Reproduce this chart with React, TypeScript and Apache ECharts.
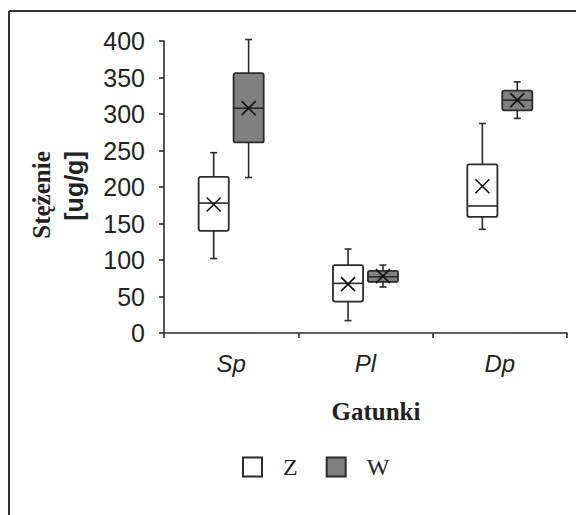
import React, { useEffect, useRef } from "react";
import * as echarts from "echarts";

// Species on the category axis
const categories = ["Sp", "Pl", "Dp"];

// Five-number summaries per species: [min, Q1, median, Q3, max]
const zStats = [
  [102, 140, 178, 214, 247],
  [17, 43, 68, 93, 115],
  [142, 159, 174, 231, 287],
];
const zMeans = [176, 67, 201];

const wStats = [
  [213, 261, 308, 356, 402],
  [63, 70, 77, 85, 93],
  [294, 305, 319, 332, 344],
];
const wMeans = [308, 78, 319];

// Value axis range and step
const yMin = 0;
const yMax = 400;
const yStep = 50;

const seriesNames = ["Z", "W"];

const INK = "#2b2b2b";

function makeRenderItem(side: number, fill: string) {
  return (params: any, api: any) => {
    const cat = api.value(0);
    const mn = api.value(1);
    const q1 = api.value(2);
    const med = api.value(3);
    const q3 = api.value(4);
    const mx = api.value(5);
    const mean = api.value(6);
    const band = api.size([1, 0])[0];
    const cx = api.coord([cat, 0])[0] + side * band * 0.13;
    const half = band * 0.112;
    const y = (v: number) => api.coord([cat, v])[1];
    const cap = 3.5;
    const xs = 7;
    const lineStyle = { stroke: INK, lineWidth: 1.6 };
    const ym = y(mean);
    return {
      type: "group",
      children: [
        { type: "line", shape: { x1: cx, y1: y(mn), x2: cx, y2: y(q1) }, style: lineStyle },
        { type: "line", shape: { x1: cx, y1: y(q3), x2: cx, y2: y(mx) }, style: lineStyle },
        { type: "line", shape: { x1: cx - cap, y1: y(mn), x2: cx + cap, y2: y(mn) }, style: lineStyle },
        { type: "line", shape: { x1: cx - cap, y1: y(mx), x2: cx + cap, y2: y(mx) }, style: lineStyle },
        {
          type: "rect",
          shape: { x: cx - half, y: y(q3), width: half * 2, height: y(q1) - y(q3), r: 2 },
          style: { fill, stroke: INK, lineWidth: 1.8 },
        },
        { type: "line", shape: { x1: cx - half, y1: y(med), x2: cx + half, y2: y(med) }, style: lineStyle },
        { type: "line", shape: { x1: cx - xs, y1: ym - xs, x2: cx + xs, y2: ym + xs }, style: { stroke: "#111", lineWidth: 1.6 } },
        { type: "line", shape: { x1: cx - xs, y1: ym + xs, x2: cx + xs, y2: ym - xs }, style: { stroke: "#111", lineWidth: 1.6 } },
      ],
    };
  };
}

export default function App() {
  const ref = useRef<HTMLDivElement>(null);

  useEffect(() => {
    if (!ref.current) return;
    const chart = echarts.init(ref.current, undefined, { renderer: "svg" });

    const zData = zStats.map((s, i) => [i, ...s, zMeans[i]]);
    const wData = wStats.map((s, i) => [i, ...s, wMeans[i]]);

    const fills = ["#ffffff", "#808080"];

    chart.setOption({
      animation: false,
      backgroundColor: "#ffffff",
      grid: { left: 164, right: 9, top: 41, bottom: 182, containLabel: false },
      legend: {
        left: 242,
        top: 455,
        padding: 0,
        itemWidth: 19,
        itemHeight: 19,
        itemGap: 28,
        textStyle: {
          fontFamily: "Liberation Serif",
          fontSize: 24,
          color: "#222",
          padding: [0, 0, 0, 16],
        },
        data: seriesNames.map((n, i) => ({
          name: n,
          icon: "rect",
          itemStyle: { color: fills[i], borderColor: INK, borderWidth: 2 },
        })),
      },
      xAxis: {
        type: "category",
        data: categories,
        boundaryGap: true,
        axisLine: { lineStyle: { color: INK, width: 1.6 } },
        axisTick: { show: true, length: 5, lineStyle: { color: INK, width: 1.6 } },
        axisLabel: {
          fontFamily: "Liberation Sans",
          fontStyle: "italic",
          fontSize: 24,
          color: "#222",
          margin: 18,
        },
        splitLine: { show: false },
      },
      yAxis: {
        type: "value",
        min: yMin,
        max: yMax,
        interval: yStep,
        axisLine: { show: true, lineStyle: { color: INK, width: 1.6 } },
        axisTick: { show: true, length: 5, lineStyle: { color: INK, width: 1.6 } },
        axisLabel: {
          fontFamily: "Liberation Sans",
          fontSize: 25,
          color: "#222",
          margin: 19,
        },
        splitLine: { show: false },
      },
      graphic: [
        { type: "line", shape: { x1: 9, y1: 11, x2: 576, y2: 11 }, style: { stroke: "#333", lineWidth: 2 } },
        { type: "line", shape: { x1: 9, y1: 11, x2: 9, y2: 515 }, style: { stroke: "#333", lineWidth: 2 } },
        {
          type: "text",
          x: 41,
          y: 195,
          rotation: Math.PI / 2,
          style: {
            text: "Stężenie",
            font: "bold 25px 'Liberation Serif'",
            fill: "#222",
            textAlign: "center",
            textVerticalAlign: "middle",
          },
        },
        {
          type: "text",
          x: 74,
          y: 186,
          rotation: Math.PI / 2,
          style: {
            text: "[ug/g]",
            font: "bold 25px 'Liberation Sans'",
            fill: "#222",
            textAlign: "center",
            textVerticalAlign: "middle",
          },
        },
        {
          type: "text",
          x: 376,
          y: 411,
          style: {
            text: "Gatunki",
            font: "bold 25px 'Liberation Serif'",
            fill: "#222",
            textAlign: "center",
            textVerticalAlign: "middle",
          },
        },
      ],
      series: [
        {
          name: seriesNames[0],
          type: "custom",
          renderItem: makeRenderItem(-1, fills[0]),
          itemStyle: { color: fills[0], borderColor: INK },
          encode: { x: 0, y: [1, 2, 3, 4, 5, 6] },
          data: zData,
        },
        {
          name: seriesNames[1],
          type: "custom",
          renderItem: makeRenderItem(1, fills[1]),
          itemStyle: { color: fills[1], borderColor: INK },
          encode: { x: 0, y: [1, 2, 3, 4, 5, 6] },
          data: wData,
        },
      ],
    });

    return () => chart.dispose();
  }, []);

  return (
    <div
      ref={ref}
      style={{ position: "absolute", left: 0, top: 0, width: 576, height: 515 }}
    />
  );
}
